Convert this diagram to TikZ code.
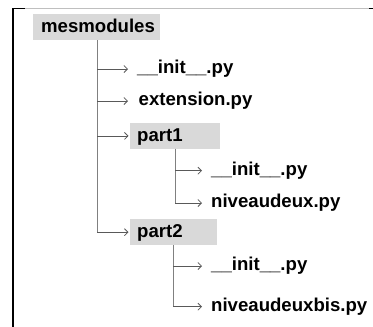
\documentclass[tikz,border=0pt]{standalone}
\usepackage{fontspec}
\setmainfont{Liberation Sans}
\usetikzlibrary{arrows.meta}
\begin{document}
\begin{tikzpicture}[x=1pt,y=-1pt,
  lbl/.style={font=\fontsize{18.6}{20}\selectfont\bfseries},
  folder/.style={lbl, fill=black!15, anchor=north west, minimum height=26pt,
    inner xsep=7pt, inner ysep=0pt, text height=14pt, text depth=3pt, align=left},
  file/.style={lbl, anchor=west, inner sep=0pt},
  branch/.style={draw=black!50, line width=1pt},
  link/.style={draw=black!65, line width=0.8pt, -{Straight Barb[length=3.5pt,width=7pt]}}]
\useasboundingbox (0,0) rectangle (373,327);
% frame
\draw[black!25, line width=1pt] (13,8.5) -- (373,8.5);
\draw[black, line width=1pt] (12.5,8.5) -- (25,8.5);
\draw[black, line width=1pt] (369,8.5) -- (373,8.5);
\draw[black, line width=1.3pt] (13,8) -- (13,327);
% folders
\node[folder, text width=111pt, inner xsep=8pt] (mes) at (33,14) {mesmodules};
\node[folder, text width=76pt] (p1) at (130,122.7) {part1};
\node[folder, text width=72.5pt] (p2) at (130,219) {part2};
% files
\node[file] (f1) at (137,69) {\_\_init\_\_.py};
\node[file] (f2) at (138.5,101) {extension.py};
\node[file] (g1) at (211,170.7) {\_\_init\_\_.py};
\node[file] (g2) at (211,203) {niveaudeux.py};
\node[file] (h1) at (211,266) {\_\_init\_\_.py};
\node[file] (h2) at (211,306.7) {niveaudeuxbis.py};
% trunks
\coordinate (t0) at (97,40);
\coordinate (t1) at (175,148.7);
\coordinate (t2) at (173,245);
\draw[branch] (t0) -- (t0 |- p2.west);
\draw[branch] (t1) -- (t1 |- g2.west);
\draw[branch] (t2) -- (t2 |- h2.west);
% arrows
\draw[link, shorten >=9pt] (t0 |- f1.west) -- (f1.west);
\draw[link, shorten >=10.5pt] (t0 |- f2.west) -- (f2.west);
\draw[link, shorten >=1.5pt] (t0 |- p1.west) -- (p1.west);
\draw[link, shorten >=1.5pt] (t0 |- p2.west) -- (p2.west);
\draw[link, shorten >=9pt] (t1 |- g1.west) -- (g1.west);
\draw[link, shorten >=9pt] (t1 |- g2.west) -- (g2.west);
\draw[link, shorten >=9pt] (t2 |- h1.west) -- (h1.west);
\draw[link, shorten >=9pt] (t2 |- h2.west) -- (h2.west);
\end{tikzpicture}
\end{document}
